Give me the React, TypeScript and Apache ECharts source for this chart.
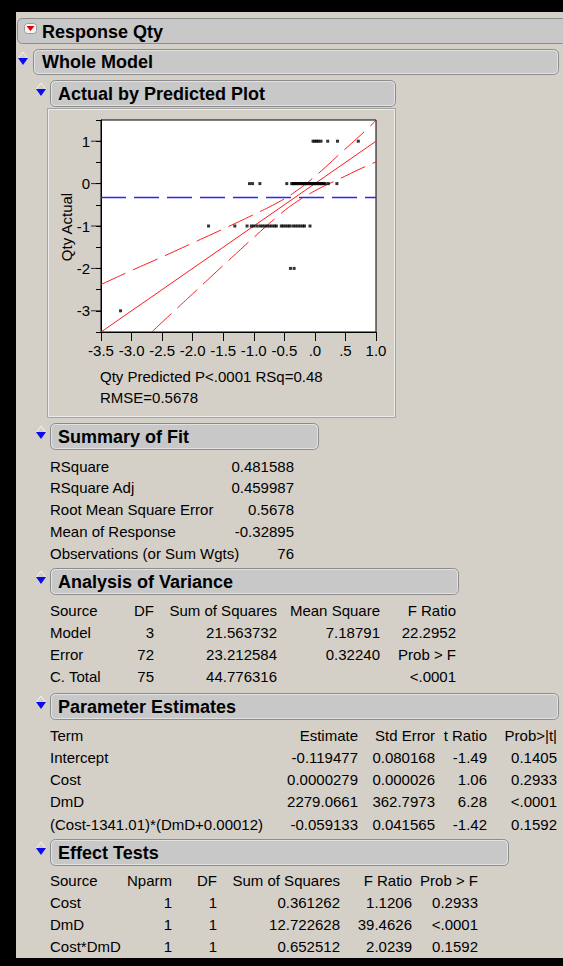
import React, { useEffect, useRef } from "react";
import * as echarts from "echarts";

// ---------- data ----------
const actualLevels = [1, 0, -1, -2, -3];
const predAtActual1 = [-0.03, 0.0, 0.03, 0.06, 0.1, 0.21, 0.37, 0.71];
const predAtActual0 = [
  -1.07, -1.02, -0.9, -0.46, -0.38, -0.36, -0.35, -0.33, -0.31, -0.3, -0.28, -0.26, -0.24,
  -0.22, -0.21, -0.19, -0.17, -0.15, -0.14, -0.12, -0.1, -0.08, -0.07, -0.05, -0.03, -0.02,
  0.0, 0.01, 0.03, 0.05, 0.06, 0.08, 0.1, 0.11, 0.13, 0.15, 0.17, 0.22, 0.36,
];
const predAtActualM1 = [
  -1.74, -1.31, -1.11, -1.04, -1.0, -0.95, -0.9, -0.86, -0.82, -0.78, -0.74, -0.7, -0.66,
  -0.63, -0.55, -0.52, -0.48, -0.44, -0.41, -0.36, -0.32, -0.28, -0.24, -0.2, -0.17, -0.08,
];
const predAtActualM2 = [-0.4, -0.34];
const predAtActualM3 = [-3.18];
const predByLevel = [predAtActual1, predAtActual0, predAtActualM1, predAtActualM2, predAtActualM3];

const meanResponse = -0.32895;
const fitLine = [[-3.5, -3.5], [1.0, 1.0]];
const upperCurve = [
  [-3.5, -2.38], [-3.0, -2.05], [-2.5, -1.73], [-2.0, -1.4], [-1.5, -1.07], [-1.0, -0.73],
  [-0.6, -0.44], [-0.33, -0.2], [0.0, 0.17], [0.4, 0.69], [0.85, 1.28], [1.0, 1.49],
];
const lowerCurve = [
  [-2.67, -3.5], [-2.5, -3.27], [-2.0, -2.6], [-1.5, -1.93], [-1.0, -1.27], [-0.6, -0.76],
  [-0.33, -0.46], [0.0, -0.17], [0.4, 0.11], [0.85, 0.42], [1.0, 0.51],
];
const yMajorTicks = [-3, -2, -1, 0, 1];

const outlineTitles = ["Response Qty", "Whole Model", "Actual by Predicted Plot", "Summary of Fit", "Analysis of Variance", "Parameter Estimates", "Effect Tests"];
const plotCaption = ["Qty Predicted P<.0001 RSq=0.48", "RMSE=0.5678"];
const yAxisName = "Qty Actual";

const summaryLabels = ["RSquare", "RSquare Adj", "Root Mean Square Error", "Mean of Response", "Observations (or Sum Wgts)"];
const summaryValues = ["0.481588", "0.459987", "0.5678", "-0.32895", "76"];

const anovaHeader = ["Source", "DF", "Sum of Squares", "Mean Square", "F Ratio"];
const anovaRows = [
  ["Model", "3", "21.563732", "7.18791", "22.2952"],
  ["Error", "72", "23.212584", "0.32240", "Prob > F"],
  ["C. Total", "75", "44.776316", "", "<.0001"],
];

const paramHeader = ["Term", "Estimate", "Std Error", "t Ratio", "Prob>|t|"];
const paramRows = [
  ["Intercept", "-0.119477", "0.080168", "-1.49", "0.1405"],
  ["Cost", "0.0000279", "0.000026", "1.06", "0.2933"],
  ["DmD", "2279.0661", "362.7973", "6.28", "<.0001"],
  ["(Cost-1341.01)*(DmD+0.00012)", "-0.059133", "0.041565", "-1.42", "0.1592"],
];

const effectHeader = ["Source", "Nparm", "DF", "Sum of Squares", "F Ratio", "Prob > F"];
const effectRows = [
  ["Cost", "1", "1", "0.361262", "1.1206", "0.2933"],
  ["DmD", "1", "1", "12.722628", "39.4626", "<.0001"],
  ["Cost*DmD", "1", "1", "0.652512", "2.0239", "0.1592"],
];

// ---------- layout / style ----------
const FONT = '"Liberation Sans", Arial, sans-serif';
const BG = "#d4d0c8";
const TXT = 15;

function txt(text: string, x: number, y: number, align: string = "left", extra: any = {}) {
  return {
    type: "text",
    x,
    y,
    z: 20,
    silent: true,
    style: { text, fill: "#000", fontSize: TXT, fontFamily: FONT, align, verticalAlign: "middle", ...extra },
  };
}

function outlineBar(x: number, y: number, w: number, h: number, title: string, tx: number) {
  return [
    { type: "rect", z: 5, silent: true, shape: { x: x + 0.5, y: y + 0.5, width: w, height: h, r: 5 }, style: { fill: "#c8c8c8", stroke: "#8c8c8c", lineWidth: 1 } },
    { type: "rect", z: 6, silent: true, shape: { x: x + 1.5, y: y + 1.5, width: w - 2, height: h - 2, r: 4 }, style: { fill: "none", stroke: "#e2e2e2", lineWidth: 1 } },
    txt(title, tx, y + h / 2 + 0.5, "left", { fontSize: 18, fontWeight: "bold" }),
  ];
}

function disclosure(x: number, y: number) {
  return [
    { type: "polyline", z: 6, silent: true, shape: { points: [[x + 0.5, y], [x + 5, y - 6], [x + 9.5, y]] }, style: { stroke: "#f4f4f4", fill: "none", lineWidth: 1 } },
    { type: "polygon", z: 7, silent: true, shape: { points: [[x, y], [x + 10, y], [x + 5, y + 7]] }, style: { fill: "#0a0af0" } },
  ];
}

function table(header: string[], rows: string[][], cols: [number, string][], y0: number, gap: number) {
  const out: any[] = [];
  [header, ...rows].forEach((r, i) => {
    r.forEach((cell, j) => {
      if (cell !== "") out.push(txt(cell, cols[j][0], y0 + i * gap, cols[j][1]));
    });
  });
  return out;
}

export default function App() {
  const ref = useRef<HTMLDivElement>(null);
  useEffect(() => {
    if (!ref.current) return;
    const chart = echarts.init(ref.current, undefined, { renderer: "svg" });

    const points: number[][] = [];
    predByLevel.forEach((arr, i) => arr.forEach((p) => points.push([p, actualLevels[i]])));

    const yName = txt(yAxisName, 66, 227, "center");
    (yName as any).rotation = Math.PI / 2;

    const graphics: any[] = [
      { type: "rect", z: -10, silent: true, shape: { x: 16, y: 12, width: 547, height: 946 }, style: { fill: BG } },
      // Response Qty header
      { type: "rect", z: 5, silent: true, shape: { x: 17.5, y: 18.5, width: 550, height: 25, r: 5 }, style: { fill: "#c8c8c8", stroke: "#8c8c8c" } },
      txt(outlineTitles[0], 42, 31.5, "left", { fontSize: 18, fontWeight: "bold" }),
      { type: "rect", z: 7, silent: true, shape: { x: 24.5, y: 23.5, width: 12, height: 10, r: 3 }, style: { fill: "#f4f4f4", stroke: "#9a9a9a" } },
      { type: "polygon", z: 8, silent: true, shape: { points: [[26.5, 26], [34.5, 26], [30.5, 31]] }, style: { fill: "#e00000" } },
      ...outlineBar(33, 49, 525, 25, outlineTitles[1], 42),
      ...disclosure(18, 58),
      ...outlineBar(50, 80, 345, 26, outlineTitles[2], 58),
      ...disclosure(36, 89),
      // plot frame
      { type: "rect", z: -5, silent: true, shape: { x: 47.5, y: 108.5, width: 348, height: 309 }, style: { fill: "none", stroke: "#a4a4a4" } },
      { type: "rect", z: -5, silent: true, shape: { x: 48.5, y: 109.5, width: 346, height: 307 }, style: { fill: "none", stroke: "#ececec" } },
      yName,
      txt(plotCaption[0], 100, 376),
      txt(plotCaption[1], 100, 397),
      // Summary of Fit
      ...outlineBar(50, 423, 268, 26, outlineTitles[3], 58),
      ...disclosure(36, 432),
      ...summaryLabels.map((l, i) => txt(l, 50, 466 + i * 21.8)),
      ...summaryValues.map((v, i) => txt(v, 294, 466 + i * 21.8, "right")),
      // ANOVA
      ...outlineBar(50, 568, 408, 26, outlineTitles[4], 58),
      ...disclosure(36, 577),
      ...table(anovaHeader, anovaRows, [[50, "left"], [154, "right"], [277, "right"], [380, "right"], [456, "right"]], 610, 22.3),
      // Parameter Estimates
      ...outlineBar(50, 693, 508, 26, outlineTitles[5], 58),
      ...disclosure(36, 702),
      ...table(paramHeader, paramRows, [[50, "left"], [358, "right"], [435, "right"], [487, "right"], [557, "right"]], 735, 22.3),
      // Effect Tests
      ...outlineBar(50, 839, 458, 26, outlineTitles[6], 58),
      ...disclosure(36, 848),
      ...table(effectHeader, effectRows, [[50, "left"], [172, "right"], [217, "right"], [340, "right"], [412, "right"], [478, "right"]], 880, 22.3),
    ];

    chart.setOption({
      animation: false,
      backgroundColor: "#000",
      textStyle: { fontFamily: FONT },
      grid: { left: 101, top: 120, width: 275, height: 212, show: true, backgroundColor: "#fff", borderColor: "#000", borderWidth: 1, z: 0 },
      xAxis: {
        type: "value",
        min: -3.5,
        max: 1.0,
        interval: 0.5,
        splitLine: { show: false },
        axisLine: { onZero: false, lineStyle: { color: "#000", width: 1 } },
        axisTick: { length: 9, lineStyle: { color: "#000" } },
        axisLabel: {
          color: "#000",
          fontSize: TXT,
          fontFamily: FONT,
          margin: 11,
          showMinLabel: true,
          showMaxLabel: true,
          formatter: (v: number) => {
            const s = v.toFixed(1);
            return v >= 0 && v < 1 ? s.slice(1) : s;
          },
        },
      },
      yAxis: {
        type: "value",
        min: -3.5,
        max: 1.5,
        interval: 0.5,
        splitLine: { show: false },
        axisLine: { onZero: false, lineStyle: { color: "#000", width: 1 } },
        axisTick: { length: 5, lineStyle: { color: "#000" } },
        axisLabel: {
          color: "#000",
          fontSize: TXT,
          fontFamily: FONT,
          margin: 11,
          showMinLabel: true,
          showMaxLabel: true,
          formatter: (v: number) => (Number.isInteger(v) ? String(v) : ""),
        },
      },
      graphic: { elements: graphics },
      series: [
        {
          name: "mean",
          type: "line",
          data: [[-3.5, meanResponse], [1.0, meanResponse]],
          symbol: "none",
          lineStyle: { color: "#2626ff", width: 1.5, type: [25, 8] },
          z: 2,
          silent: true,
        },
        {
          name: "fit",
          type: "line",
          data: fitLine,
          symbol: "none",
          lineStyle: { color: "#ff1a1a", width: 1 },
          z: 3,
          silent: true,
        },
        {
          name: "upper",
          type: "line",
          data: upperCurve,
          symbol: "none",
          smooth: true,
          lineStyle: { color: "#ff1a1a", width: 1, type: [27, 8] },
          z: 3,
          silent: true,
        },
        {
          name: "lower",
          type: "line",
          data: lowerCurve,
          symbol: "none",
          smooth: true,
          lineStyle: { color: "#ff1a1a", width: 1, type: [27, 8] },
          z: 3,
          silent: true,
        },
        {
          name: "points",
          type: "scatter",
          data: points,
          symbol: "rect",
          symbolSize: 3,
          itemStyle: { color: "#000" },
          z: 4,
          silent: true,
        },
        {
          name: "majorTicks",
          type: "scatter",
          data: yMajorTicks.map((v) => [-3.5, v]),
          symbol: "rect",
          symbolSize: [10, 1],
          symbolOffset: [-5, 0],
          itemStyle: { color: "#000" },
          clip: false,
          z: 4,
          silent: true,
        },
      ],
    });
    return () => chart.dispose();
  }, []);
  return <div ref={ref} style={{ position: "absolute", left: 0, top: 0, width: 563, height: 966 }} />;
}
